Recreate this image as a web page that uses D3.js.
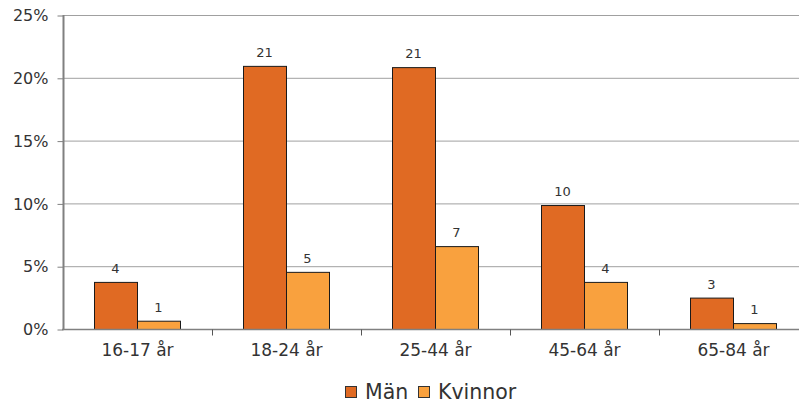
<!DOCTYPE html>
<html><head><meta charset="utf-8">
<script src="https://cdn.jsdelivr.net/npm/d3@7"></script>
<style>body{margin:0;background:#fff}svg{display:block}</style>
</head><body>
<svg id="c" width="799" height="406"></svg>
<script>
const categories = ["16-17 år","18-24 år","25-44 år","45-64 år","65-84 år"];
const seriesNames = ["Män","Kvinnor"];
const man = [3.75, 20.95, 20.85, 9.87, 2.5];
const kvinnor = [0.66, 4.55, 6.6, 3.75, 0.47];
const manLabels = ["4","21","21","10","3"];
const kvinnorLabels = ["1","5","7","4","1"];
const yTicks = [0,5,10,15,20,25];
const colors = ["#E06A23","#F9A13E"];

const svg = d3.select("#c");
const font = "DejaVu Sans, Verdana, sans-serif";
const x0 = d3.scaleBand().domain(categories).range([63,808]).paddingInner(0).paddingOuter(0);
const x1 = d3.scaleBand().domain(seriesNames).range([31,117]);
const y = d3.scaleLinear().domain([0,25]).range([329,15]);

// gridlines
svg.append("g").selectAll("line").data(yTicks.filter(d=>d>0)).join("line")
  .attr("x1",63).attr("x2",808).attr("y1",d=>y(d)+0.5).attr("y2",d=>y(d)+0.5)
  .attr("stroke","#a0a0a0").attr("stroke-width",1);

const data = [man, kvinnor];
const labels = [manLabels, kvinnorLabels];
seriesNames.forEach((s,si)=>{
  const g = svg.append("g");
  g.selectAll("rect").data(categories).join("rect")
    .attr("x",c=>x0(c)+x1(s)+0.5)
    .attr("y",(c,i)=>y(data[si][i])+0.5)
    .attr("width",x1.bandwidth())
    .attr("height",(c,i)=>y(0)-y(data[si][i]))
    .attr("fill",colors[si]).attr("stroke","#1a1a1a").attr("stroke-width",1);
  g.selectAll("text").data(categories).join("text")
    .attr("x",c=>x0(c)+x1(s)+x1.bandwidth()/2)
    .attr("y",(c,i)=>y(data[si][i])-9)
    .attr("text-anchor","middle").attr("font-family",font).attr("font-size",13)
    .attr("fill","#333").text((c,i)=>labels[si][i]);
});

// y axis
const ya = svg.append("g").attr("transform","translate(63.5,0.5)")
  .call(d3.axisLeft(y).tickValues(yTicks).tickFormat(d=>d+"%").tickSize(6).tickPadding(9));
ya.select(".domain").attr("stroke","#808080").attr("stroke-width",2).attr("d","M0,"+(y(25)-0.5)+"V"+y(0));
ya.selectAll(".tick line").attr("stroke","#808080");
ya.selectAll("text").attr("font-family",font).attr("font-size",16).attr("fill","#333");

// x axis
const xa = svg.append("g").attr("transform","translate(0,329.5)");
xa.append("line").attr("x1",62).attr("x2",808).attr("stroke","#808080").attr("stroke-width",1.5);
xa.selectAll("line.t").data(categories.slice(1)).join("line").attr("class","t")
  .attr("x1",c=>Math.round(x0(c))+0.5).attr("x2",c=>Math.round(x0(c))+0.5).attr("y1",0).attr("y2",6)
  .attr("stroke","#555");
xa.selectAll("text").data(categories).join("text")
  .attr("x",c=>x0(c)+x0.bandwidth()/2).attr("y",26.5)
  .attr("text-anchor","middle").attr("font-family",font).attr("font-size",17).attr("fill","#333")
  .text(c=>c);

// legend
const leg = svg.append("g").attr("transform","translate(345,386)");
const lx = [0, 73];
seriesNames.forEach((s,i)=>{
  leg.append("rect").attr("x",lx[i]+0.5).attr("y",0.5).attr("width",11).attr("height",11)
    .attr("fill",colors[i]).attr("stroke","#333");
  leg.append("text").attr("x",lx[i]+20).attr("y",12.5).attr("font-family",font).attr("font-size",20.5)
    .attr("fill","#333").text(s);
});
</script>
</body></html>
